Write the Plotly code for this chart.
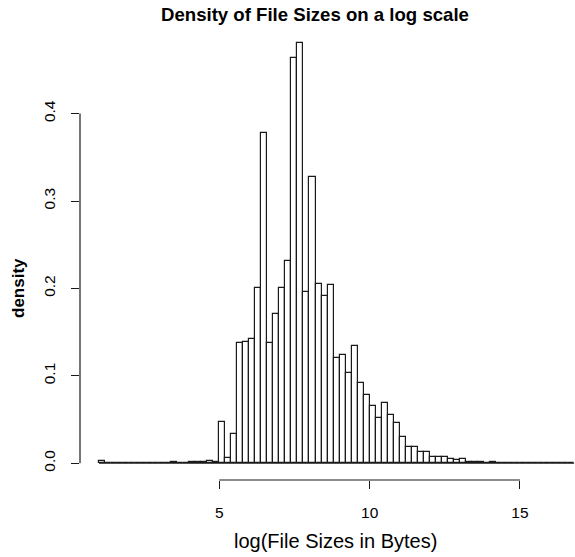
import numpy as np
import plotly.graph_objects as go

# Histogram of log file sizes: bins of width 0.2 from 1.0 to 16.8
bin_start = 1.0
bin_width = 0.2
density = [
    0.002, 0.0, 0.0, 0.0, 0.0, 0.0, 0.0, 0.0, 0.0, 0.0,      # 1.0 - 3.0
    0.0, 0.0, 0.001, 0.0, 0.0, 0.001, 0.001, 0.0015, 0.002, 0.001,  # 3.0 - 5.0
    0.047, 0.0065, 0.033, 0.137, 0.139, 0.142, 0.200, 0.378, 0.138, 0.171,  # 5.0 - 7.0
    0.201, 0.231, 0.464, 0.481, 0.196, 0.328, 0.205, 0.191, 0.204, 0.120,  # 7.0 - 9.0
    0.124, 0.103, 0.134, 0.092, 0.078, 0.065, 0.052, 0.069, 0.055, 0.046,  # 9.0 - 11.0
    0.030, 0.018, 0.018, 0.013, 0.013, 0.0075, 0.007, 0.007, 0.005, 0.004,  # 11.0 - 13.0
    0.005, 0.001, 0.001, 0.001, 0.0, 0.001, 0.0, 0.0, 0.0, 0.0,  # 13.0 - 15.0
    0.0, 0.0, 0.0, 0.0, 0.0, 0.0, 0.0, 0.0, 0.0,              # 15.0 - 16.8
]
x_ticks = [5, 10, 15]
y_ticks = [0.0, 0.1, 0.2, 0.3, 0.4]
y_tick_text = ["0.0", "0.1", "0.2", "0.3", "0.4"]

title_text = "Density of File Sizes on a log scale"
x_label = "log(File Sizes in Bytes)"
y_label = "density"

breaks = bin_start + bin_width * np.arange(len(density) + 1)
centers = (breaks[:-1] + breaks[1:]) / 2

# R-style axis limits: data range padded by 4%
x_span = breaks[-1] - breaks[0]
x_lo = breaks[0] - 0.04 * x_span
y_max = max(density)
y_range = [-0.04 * y_max, 1.04 * y_max]

W, H = 575, 557
ml, mr, mt, mb = 80, 0, 26, 77
px_per_unit = 30.07
x_hi = x_lo + (W - ml - mr) / px_per_unit

font_family = "Liberation Sans, Arial, sans-serif"
line_col = "#1a1a1a"

fig = go.Figure()

# zero-height bins show as a line along the baseline
fig.add_trace(go.Scatter(
    x=[breaks[0], breaks[-1]], y=[0, 0], mode="lines",
    line=dict(color=line_col, width=1.2), hoverinfo="skip", showlegend=False,
))

fig.add_trace(go.Bar(
    x=centers, y=density, width=bin_width,
    marker=dict(color="white", line=dict(color=line_col, width=1.2)),
    showlegend=False,
))

# axis lines span only the tick range, as in base R graphics
shapes = [
    dict(type="line", xref="x", yref="paper", x0=min(x_ticks), x1=max(x_ticks),
         y0=0, y1=0, line=dict(color=line_col, width=1.2)),
    dict(type="line", xref="paper", yref="y", x0=0, x1=0,
         y0=min(y_ticks), y1=max(y_ticks), line=dict(color=line_col, width=1.2)),
]

plot_w = W - ml - mr
plot_h = H - mt - mb

def xp(px):
    return (px - ml) / plot_w

def yp(py):
    return (H - mb - py) / plot_h

annotations = [
    dict(text="<b>" + title_text + "</b>", xref="paper", yref="paper",
         x=xp(315), y=yp(15), showarrow=False, xanchor="center", yanchor="middle",
         font=dict(family=font_family, size=18.6, color="black")),
    dict(text=x_label, xref="paper", yref="paper",
         x=xp(335), y=yp(541), showarrow=False, xanchor="center", yanchor="middle",
         font=dict(family=font_family, size=20, color="black")),
    dict(text="<b>" + y_label + "</b>", xref="paper", yref="paper",
         x=xp(18), y=yp(288), showarrow=False, xanchor="center", yanchor="middle",
         textangle=-90, font=dict(family=font_family, size=17, color="black")),
]

fig.update_layout(
    width=W, height=H,
    margin=dict(l=ml, r=mr, t=mt, b=mb, pad=0),
    paper_bgcolor="white", plot_bgcolor="white",
    bargap=0,
    shapes=shapes,
    annotations=annotations,
    xaxis=dict(
        range=[x_lo, x_hi], tickmode="array", tickvals=x_ticks,
        ticktext=[str(t) for t in x_ticks],
        ticks="outside", ticklen=8, tickwidth=1.2, tickcolor=line_col,
        showline=False, showgrid=False, zeroline=False,
        tickfont=dict(family=font_family, size=15.5, color="black"),
        ticklabelstandoff=10,
    ),
    yaxis=dict(
        range=y_range, tickmode="array", tickvals=y_ticks, ticktext=y_tick_text,
        ticks="outside", ticklen=8, tickwidth=1.2, tickcolor=line_col,
        tickangle=-90,
        showline=False, showgrid=False, zeroline=False,
        tickfont=dict(family=font_family, size=15.5, color="black"),
        ticklabelstandoff=10,
    ),
)

fig.write_html("out.html")
